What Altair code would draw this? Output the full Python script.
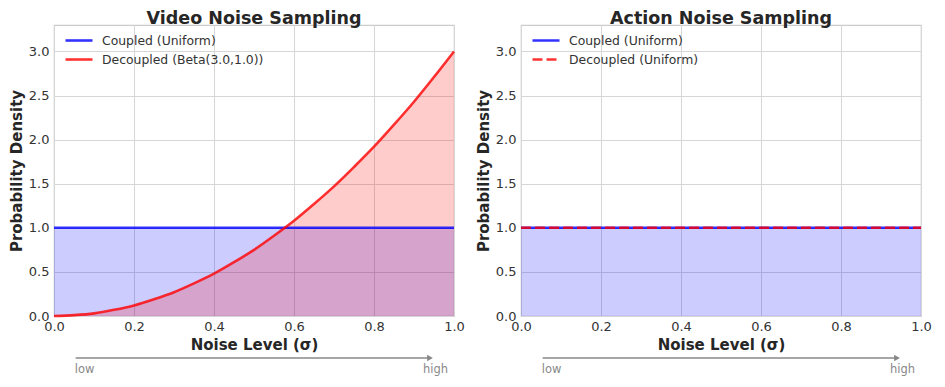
import altair as alt
import pandas as pd

# ---- data ----
noise_x = [0.0, 0.05, 0.10, 0.15, 0.20, 0.25, 0.30, 0.35, 0.40, 0.45, 0.50,
           0.55, 0.60, 0.65, 0.70, 0.75, 0.80, 0.85, 0.90, 0.95, 1.0]
beta_density = [0.0, 0.01, 0.03, 0.07, 0.12, 0.19, 0.27, 0.37, 0.48, 0.61, 0.75,
                0.91, 1.08, 1.27, 1.47, 1.69, 1.92, 2.17, 2.43, 2.71, 3.0]
uniform_x = [0.0, 1.0]
uniform_density = [1.0, 1.0]

left_title = "Video Noise Sampling"
right_title = "Action Noise Sampling"
left_series = ["Coupled (Uniform)", "Decoupled (Beta(3.0,1.0))"]
right_series = ["Coupled (Uniform)", "Decoupled (Uniform)"]
x_ticks = [0.0, 0.2, 0.4, 0.6, 0.8, 1.0]
y_ticks = [0.0, 0.5, 1.0, 1.5, 2.0, 2.5, 3.0]
arrow_words = ["low", "high"]
arrow_word_pos = [0.052, 0.985]

BLUE = "#0000ff"
RED = "#ff0000"
GRAY = "#888888"
FONT = "DejaVu Sans"
W, H = 400, 291

uni_df = pd.DataFrame({"x": uniform_x, "y": uniform_density})
beta_df = pd.DataFrame({"x": noise_x, "y": beta_density})

xenc = alt.X("x:Q", scale=alt.Scale(domain=[0, 1], nice=False),
             axis=alt.Axis(values=x_ticks, format=".1f", title="Noise Level (σ)"))
yenc = alt.Y("y:Q", scale=alt.Scale(domain=[0, 3.3], nice=False),
             axis=alt.Axis(values=y_ticks, format=".1f", title="Probability Density"))


def legend_def():
    return alt.Legend(title=None, orient="none", legendX=10, legendY=8,
                      symbolType="stroke", symbolSize=729, symbolStrokeWidth=2.6,
                      symbolOpacity=0.8, labelFontSize=12.4, labelFont=FONT,
                      labelColor="#333333", labelOffset=8, rowPadding=4,
                      clipHeight=15, labelLimit=400, padding=0)


def arrow_layers():
    rule = alt.Chart(pd.DataFrame({"k": ["arrow"]})).mark_rule(
        color=GRAY, strokeWidth=1.5
    ).encode(x=alt.datum(0.054), x2=alt.datum(0.935), y=alt.value(333))
    head = alt.Chart(pd.DataFrame({"k": ["head"]})).mark_point(
        shape="triangle-right", filled=True, color=GRAY, size=45, opacity=1
    ).encode(x=alt.datum(0.94), y=alt.value(333))
    words = pd.DataFrame({"w": arrow_words, "pos": arrow_word_pos})
    low = alt.Chart(words.iloc[[0]]).mark_text(
        align="left", baseline="middle", color=GRAY, fontSize=11.5, font=FONT
    ).encode(x=alt.X("pos:Q"), y=alt.value(345), text="w:N")
    high = alt.Chart(words.iloc[[1]]).mark_text(
        align="right", baseline="middle", color=GRAY, fontSize=11.5, font=FONT
    ).encode(x=alt.X("pos:Q"), y=alt.value(345), text="w:N")
    return [rule, head, low, high]


def title_def(t):
    return alt.TitleParams(t, fontSize=17.5, fontWeight="bold", font=FONT,
                           color="#262626", offset=-2)


# ---- left panel ----
left_lines_df = pd.concat([
    pd.DataFrame({"x": uniform_x, "y": uniform_density, "series": left_series[0]}),
    pd.DataFrame({"x": noise_x, "y": beta_density, "series": left_series[1]}),
])
l_area_blue = alt.Chart(uni_df).mark_area(color=BLUE, opacity=0.2).encode(x=xenc, y=yenc)
l_area_red = alt.Chart(beta_df).mark_area(color=RED, opacity=0.2, interpolate="monotone").encode(x=xenc, y=yenc)
l_lines = alt.Chart(left_lines_df).mark_line(strokeWidth=2.6, opacity=0.8, interpolate="monotone").encode(
    x=xenc, y=yenc,
    color=alt.Color("series:N", scale=alt.Scale(domain=left_series, range=[BLUE, RED]),
                    legend=legend_def()),
)

left = alt.layer(l_area_blue, l_area_red, l_lines, *arrow_layers()).properties(
    width=W, height=H, title=title_def(left_title))

# ---- right panel ----
right_lines_df = pd.concat([
    pd.DataFrame({"x": uniform_x, "y": uniform_density, "series": right_series[0]}),
    pd.DataFrame({"x": uniform_x, "y": uniform_density, "series": right_series[1]}),
])
r_area_blue = alt.Chart(uni_df).mark_area(color=BLUE, opacity=0.2).encode(x=xenc, y=yenc)
r_lines = alt.Chart(right_lines_df).mark_line(strokeWidth=2.6, opacity=0.8).encode(
    x=xenc, y=yenc,
    color=alt.Color("series:N", scale=alt.Scale(domain=right_series, range=[BLUE, RED]),
                    legend=legend_def()),
    strokeDash=alt.StrokeDash("series:N", scale=alt.Scale(domain=right_series, range=[[1, 0], [10, 4]]),
                              legend=legend_def()),
)

right = alt.layer(r_area_blue, r_lines, *arrow_layers()).properties(
    width=W, height=H, title=title_def(right_title))

chart = alt.hconcat(left, right, spacing=10).resolve_scale(
    color="independent", strokeDash="independent"
).resolve_legend(color="independent", strokeDash="independent").properties(
    padding={"left": 0, "top": 0, "right": 0, "bottom": 0}
).configure_view(
    stroke="#cccccc", strokeWidth=1.2
).configure_axis(
    grid=True, gridColor="#d6d6d6", gridWidth=1, domain=False, ticks=False,
    labelFont=FONT, labelFontSize=13, labelColor="#333333", labelPadding=4,
    labelFlush=False, titleFont=FONT, titleFontSize=15, titleFontWeight="bold",
    titleColor="#262626",
).configure_axisY(titlePadding=4, labelPadding=5).configure_axisX(titlePadding=4)

chart.save("out.html", embed_options={"renderer": "svg", "actions": False})
